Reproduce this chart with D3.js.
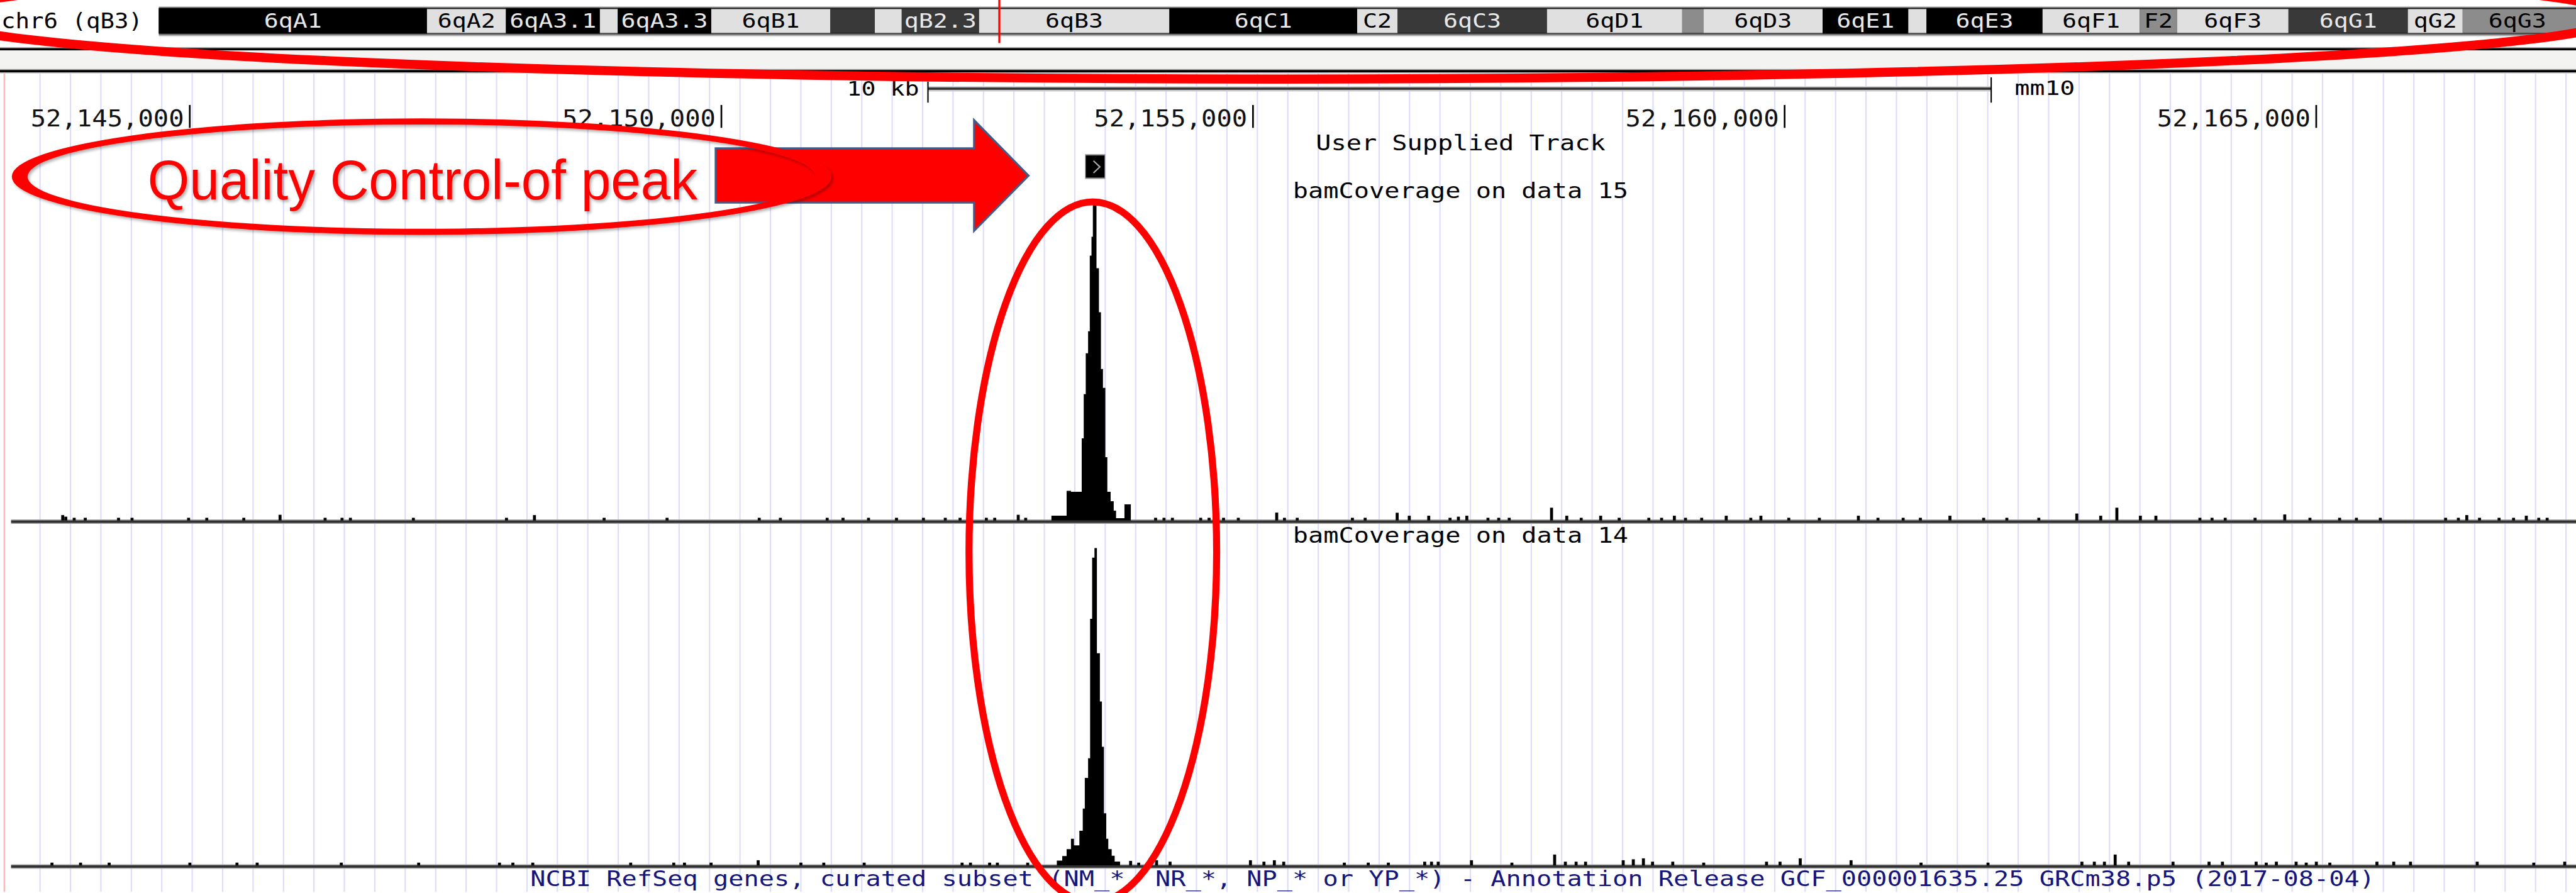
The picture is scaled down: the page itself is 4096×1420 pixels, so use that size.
<!DOCTYPE html>
<html><head><meta charset="utf-8">
<script src="https://cdn.jsdelivr.net/npm/d3@7"></script>
<style>html,body{margin:0;padding:0;background:#fff;overflow:hidden}</style>
</head><body>
<svg id="c" width="4096" height="1420" xmlns="http://www.w3.org/2000/svg"></svg>
<script>
// ---------------- DATA ----------------
const chromName = "chr6 (qB3)";
const chromLengthMb = 149.74;
const bandStartMb = [0,16.64,21.54,27.37,28.48,34.28,41.67,44.43,46.10,50.90,62.71,74.36,76.87,86.14,94.53,95.85,103.24,108.56,109.69,116.89,122.92,125.24,132.15,139.56,142.96];
const bandEndMb   = [16.64,21.54,27.37,28.48,34.28,41.67,44.43,46.10,50.90,62.71,74.36,76.87,86.14,94.53,95.85,103.24,108.56,109.69,116.89,122.92,125.24,132.15,139.56,142.96,149.74];
const bandStain = ["gpos100","gneg","gpos100","gneg","gpos100","gneg","gpos75","gneg","gpos75","gneg","gpos100","gneg","gpos75","gneg","gpos50","gneg","gpos100","gneg","gpos100","gneg","gpos50","gneg","gpos75","gneg","gpos50"];
const bandLabel = ["6qA1","6qA2","6qA3.1","","6qA3.3","6qB1","","","qB2.3","6qB3","6qC1","C2","6qC3","6qD1","","6qD3","6qE1","","6qE3","6qF1","F2","6qF3","6qG1","qG2","6qG3"];

const viewStart = 52143256, viewEnd = 52167421;
const rulerTicks = [52145000, 52150000, 52155000, 52160000, 52165000];
const scaleBarStart = 52151943, scaleBarLength = 10000;
const scaleBarLabel = "10 kb", assemblyLabel = "mm10";
const userTrackName = "User Supplied Track";
const userFeature = [52153427, 52153604];

const track15Name = "bamCoverage on data 15";
const track14Name = "bamCoverage on data 14";
const refSeqLabel = "NCBI RefSeq genes, curated subset (NM_*, NR_*, NP_* or YP_*) - Annotation Release GCF_000001635.25 GRCm38.p5 (2017-08-04)";

// coverage, data 15: peak as step function (start positions, value until next start)
const cov15PeakStart = [52153104,52153247,52153288,52153389,52153408,52153427,52153449,52153465,52153481,52153494,52153528,52153551,52153570,52153589,52153611,52153630,52153661,52153690,52153712,52153791,52153851];
const cov15PeakValue = [1.4,9.3,9.0,26,40,53,60,84,90,100,80,66,48,42,20,9,6,3,0.6,5,0];
const cov15BlipPos = [52143791,52143820,52143899,52144003,52144316,52144443,52144975,52145146,52145494,52145835,52146259,52146418,52146497,52147089,52147965,52148228,52148883,52149475,52150342,52150541,52150981,52151130,52151370,52151633,52151886,52152092,52152231,52152478,52152557,52152778,52152848,52154070,52154149,52154228,52154494,52154573,52154709,52154848,52155209,52155282,52155402,52155921,52156041,52156342,52156456,52156639,52156839,52156918,52156997,52157196,52157297,52157396,52157794,52157937,52158073,52158256,52158430,52158709,52158829,52158949,52159054,52159206,52159437,52159668,52159763,52160025,52160313,52160680,52160864,52161101,52161263,52161541,52161858,52162076,52162377,52162734,52162959,52163111,52163332,52163478,52163892,52164006,52164130,52164411,52164690,52164927,52165206,52165364,52165589,52166203,52166323,52166402,52166522,52166706,52166842,52166962,52167079,52167158];
const cov15BlipValue = [1.6,1.1,0.75,0.75,0.75,0.75,0.75,0.75,0.75,1.7,0.75,0.75,0.75,0.75,0.75,1.6,0.75,0.75,0.75,0.75,0.75,0.75,0.75,0.75,0.75,0.75,0.75,0.75,0.75,1.7,0.75,0.75,0.75,0.75,0.75,0.75,0.75,0.75,2.4,0.75,0.75,0.75,0.75,2.35,1.4,1.4,0.75,1.1,1.4,0.75,0.75,0.75,3.95,1.4,0.75,1.4,0.75,0.75,0.75,1.4,0.75,0.75,1.4,0.75,1.4,0.75,0.75,1.4,0.75,0.75,0.75,1.4,0.75,0.75,0.75,2.1,1.4,3.95,1.4,1.4,0.75,0.75,0.75,0.75,1.8,0.75,0.75,0.75,0.75,0.75,0.75,1.6,0.75,0.75,0.75,1.4,0.75,0.75];

// coverage, data 14
const cov14PeakStart = [52153155,52153206,52153247,52153288,52153316,52153367,52153399,52153418,52153449,52153468,52153487,52153509,52153532,52153560,52153579,52153598,52153620,52153639,52153671,52153699,52153750];
const cov14PeakValue = [1.4,2.8,5,8.3,6.2,10.8,17.8,27.5,33.7,77.7,97,100,66.8,51.6,37.3,16.3,8.3,5,2.9,1.1,0];
const cov14BlipPos = [52143690,52143959,52144228,52144987,52145430,52145620,52146411,52147139,52147899,52148025,52148212,52149133,52149538,52149639,52149889,52150332,52150734,52150949,52151329,52152250,52152329,52152509,52152582,52152867,52153835,52153911,52154079,52154206,52154962,52155089,52155187,52155275,52155845,52156070,52156259,52156601,52156665,52156728,52157041,52157421,52157823,52157924,52158025,52158114,52158468,52158563,52158658,52158744,52158934,52159225,52159816,52159943,52160133,52160611,52161269,52161899,52162782,52162899,52162994,52163095,52163222,52163639,52163978,52164104,52164421,52164516,52164611,52164797,52164892,52164987,52165114,52165557,52165715,52165873,52166500,52167032,52167323];
const cov14BlipValue = [0.75,0.75,0.75,0.75,0.75,0.75,0.75,0.75,0.75,0.75,0.75,0.75,0.75,0.75,0.75,1.5,0.75,0.75,0.75,0.75,0.75,0.75,0.75,0.75,1.3,0.75,1.5,1.05,1.5,1.05,1.5,1.05,0.75,0.75,0.75,1.05,1.05,1.05,1.5,0.75,3.3,1.05,1.05,1.05,1.5,1.8,2.1,1.05,1.05,0.75,1.05,1.05,2.1,1.5,0.75,0.75,1.05,1.05,1.05,3.3,1.05,1.05,1.05,1.05,1.05,0.75,1.05,1.05,0.75,1.05,0.75,1.05,1.05,1.05,1.05,0.75,1.05];
const blipWidthBp = 28;

const annotationText = "Quality Control-of peak";

// ---------------- DRAWING ----------------
const K = 0.535;            // reference -> window scale
const W = 7649, H = 2651;   // reference size (drawing units)
const svg = d3.select("#c");
svg.append("rect").attr("width",4096).attr("height",1420).attr("fill","#fff");
const defs = svg.append("defs");
const f = defs.append("filter").attr("id","shadow").attr("x","-10%").attr("y","-10%").attr("width","120%").attr("height","130%");
f.append("feDropShadow").attr("dx",5).attr("dy",6).attr("stdDeviation",4).attr("flood-color","#000").attr("flood-opacity",0.3);

const root = svg.append("g").attr("transform",`scale(${K})`);
const MONO = "'DejaVu Sans Mono', 'Liberation Mono', monospace";
const CHW = 45.3; // char advance in the reference

const x = d3.scaleLinear().domain([rulerTicks[0], rulerTicks[rulerTicks.length-1]]).range([564, 6884]);
const ideo = d3.scaleLinear().domain([0, chromLengthMb]).range([472, 7644]);

// ---- ideogram ----
const gI = root.append("g");
gI.append("text").attr("x", 4).attr("y", 84)
  .attr("font-family", MONO).attr("font-size", 62).attr("fill","#000")
  .attr("textLength", 420).attr("lengthAdjust","spacingAndGlyphs").text(chromName);
gI.append("rect").attr("x", ideo(0)).attr("y",20).attr("width", ideo(chromLengthMb)-ideo(0)+20).attr("height",86).attr("fill","#7a7a7a");
gI.append("rect").attr("x", ideo(0)).attr("y",106).attr("width", ideo(chromLengthMb)-ideo(0)+20).attr("height",4).attr("fill","#e6e6e6");
gI.append("rect").attr("x", ideo(0)).attr("y",24).attr("width", ideo(chromLengthMb)-ideo(0)+20).attr("height",76).attr("fill","#151515");
const stainFill = {gpos100:"#000000", gpos75:"#393939", gpos50:"#8c8c8c", gneg:"#e0e0e0"};
const stainText = {gpos100:"#e8e8e8", gpos75:"#e8e8e8", gpos50:"#000", gneg:"#000"};
const bands = bandStartMb.map((s,i)=>({s, e:bandEndMb[i], stain:bandStain[i], label:bandLabel[i]}));
gI.selectAll("rect.band").data(bands).enter().append("rect").attr("class","band")
  .attr("x", d=>ideo(d.s)).attr("y", d=> d.stain==="gpos100"? 24:27)
  .attr("width", d=>ideo(d.e)-ideo(d.s) + (d.e>=chromLengthMb?20:0)).attr("height", d=> d.stain==="gpos100"?76:71)
  .attr("fill", d=>stainFill[d.stain]);
gI.selectAll("text.band").data(bands.filter(d=>d.label)).enter().append("text").attr("class","band")
  .attr("x", d=>(ideo(d.s)+ideo(d.e))/2).attr("y", 82).attr("text-anchor","middle")
  .attr("font-family", MONO).attr("font-size", 58).attr("fill", d=>stainText[d.stain])
  .attr("textLength", d=>d.label.length*43).attr("lengthAdjust","spacingAndGlyphs").text(d=>d.label);
const viewMidMb = (viewStart+viewEnd)/2/1e6;
gI.append("line").attr("x1", ideo(viewMidMb)).attr("x2", ideo(viewMidMb)).attr("y1",0).attr("y2",128)
  .attr("stroke","#ff0000").attr("stroke-width",6);

// ---- separators ----
const sep = [[140,3,"#aaaaaa"],[143,7,"#000"],[150,55,"#f3f3f1"],[205,3,"#aaaaaa"],[208,7,"#000"],[215,3,"#bbbbbb"]];
root.selectAll("rect.sep").data(sep).enter().append("rect").attr("class","sep")
  .attr("x",0).attr("width",W+10).attr("y",d=>d[0]).attr("height",d=>d[1]).attr("fill",d=>d[2]);

// ---- guide lines ----
const gG = root.append("g");
gG.selectAll("line").data(d3.range(119, W, 90.45)).enter().append("line")
  .attr("x1",d=>d).attr("x2",d=>d).attr("y1",218).attr("y2",H)
  .attr("stroke","#dcdcfc").attr("stroke-width",4);
gG.append("line").attr("x1",13).attr("x2",13).attr("y1",218).attr("y2",H).attr("stroke","#ffb8b8").attr("stroke-width",5);

// ---- scale bar ----
const gS = root.append("g");
const sb0 = x(scaleBarStart), sb1 = x(scaleBarStart+scaleBarLength);
gS.append("rect").attr("x",sb0).attr("y",256).attr("width",sb1-sb0).attr("height",16).attr("fill","#cfcfcf");
gS.append("rect").attr("x",sb0).attr("y",260).attr("width",sb1-sb0).attr("height",7).attr("fill","#333");
gS.append("line").attr("x1",sb0).attr("x2",sb0).attr("y1",243).attr("y2",305).attr("stroke","#000").attr("stroke-width",4);
gS.append("line").attr("x1",sb1).attr("x2",sb1).attr("y1",230).attr("y2",305).attr("stroke","#000").attr("stroke-width",4);
gS.append("text").attr("x",sb0-26).attr("y",285).attr("text-anchor","end").attr("font-family",MONO).attr("font-size",60)
  .attr("textLength",215).attr("lengthAdjust","spacingAndGlyphs").text(scaleBarLabel);
gS.append("text").attr("x",sb1+70).attr("y",282).attr("font-family",MONO).attr("font-size",60)
  .attr("textLength",179).attr("lengthAdjust","spacingAndGlyphs").text(assemblyLabel);

// ---- ruler ----
const fmt = d3.format(",");
const gR = root.append("g");
gR.selectAll("line").data(rulerTicks).enter().append("line")
  .attr("x1",d=>x(d)).attr("x2",d=>x(d)).attr("y1",312).attr("y2",380).attr("stroke","#000").attr("stroke-width",5);
gR.selectAll("text").data(rulerTicks).enter().append("text")
  .attr("x",d=>x(d)-17).attr("y",375).attr("text-anchor","end").attr("font-family",MONO).attr("font-size",70)
  .attr("fill","#111").attr("textLength",d=>fmt(d).length*45.6).attr("lengthAdjust","spacingAndGlyphs").text(d=>fmt(d));

// ---- track labels ----
const LABX = 4341;
function label(txt, y, color){
  root.append("text").attr("x",LABX).attr("y",y).attr("text-anchor","middle").attr("font-family",MONO).attr("font-size",62)
    .attr("fill",color||"#000").attr("textLength",txt.length*CHW).attr("lengthAdjust","spacingAndGlyphs").text(txt);
}
label(userTrackName, 447);
label(track15Name, 588);
label(track14Name, 1613);
root.append("text").attr("x",4317).attr("y",2634).attr("text-anchor","middle").attr("font-family",MONO).attr("font-size",62)
  .attr("fill","#16167a").attr("textLength",5482).attr("lengthAdjust","spacingAndGlyphs").text(refSeqLabel);

// user feature
const uf0 = x(userFeature[0]), uf1 = x(userFeature[1]);
root.append("rect").attr("x",uf0-2).attr("y",458).attr("width",uf1-uf0+4).attr("height",74).attr("fill","#9a9a9a");
root.append("rect").attr("x",uf0).attr("y",462).attr("width",uf1-uf0).attr("height",66).attr("fill","#000");
root.append("path").attr("d",`M${uf0+23},${478} L${uf0+42},${496} L${uf0+23},${514}`).attr("fill","none").attr("stroke","#aaa").attr("stroke-width",4);

// ---- coverage tracks ----
function drawTrack(base, top, peakStart, peakValue, blipPos, blipValue){
  const y = d3.scaleLinear().domain([0,100]).range([base, top]);
  const g = root.append("g");
  g.append("rect").attr("x",33).attr("y",base-2).attr("width",W).attr("height",13).attr("fill","#a0a0a0");
  g.append("rect").attr("x",33).attr("y",base+1).attr("width",W).attr("height",7).attr("fill","#303030");
  const pts = peakStart.map((s,i)=>({s, v:peakValue[i]}));
  const area = d3.area().curve(d3.curveStepAfter).x(d=>x(d.s)).y0(base+1).y1(d=>y(d.v));
  g.append("path").datum(pts).attr("d",area).attr("fill","#000");
  const bl = blipPos.map((p,i)=>({p, v:blipValue[i]}));
  g.selectAll("rect.bl").data(bl).enter().append("rect").attr("class","bl")
    .attr("x",d=>x(d.p)).attr("width",d=>x(d.p+blipWidthBp)-x(d.p))
    .attr("y",d=>y(d.v)).attr("height",d=>base-y(d.v)+1).attr("fill","#000");
}
drawTrack(1546, 610, cov15PeakStart, cov15PeakValue, cov15BlipPos, cov15BlipValue);
drawTrack(2571, 1629, cov14PeakStart, cov14PeakValue, cov14BlipPos, cov14BlipValue);

// ---- annotations ----
const gA = root.append("g");
gA.append("ellipse").attr("cx",3800).attr("cy",50).attr("rx",3990).attr("ry",185)
  .attr("fill","none").attr("stroke","#ff0000").attr("stroke-width",27);
gA.append("path").attr("d","M2127,441 L2895,441 L2895,357 L3057,522 L2895,686 L2895,602 L2127,602 Z")
  .attr("fill","#ff0000").attr("stroke","#3d5d8c").attr("stroke-width",6).attr("stroke-linejoin","miter");
gA.append("text").attr("x",439).attr("y",592).attr("font-family","'Liberation Sans', Arial, sans-serif")
  .attr("font-size",168).attr("fill","#ff0000").attr("textLength",1634).attr("lengthAdjust","spacingAndGlyphs")
  .attr("filter","url(#shadow)").text(annotationText);
function ellRing(cx,cy,rxo,ryo,rxi,ryi){
  const e=(rx,ry)=>`M${cx-rx},${cy} A${rx},${ry} 0 1 0 ${cx+rx},${cy} A${rx},${ry} 0 1 0 ${cx-rx},${cy} Z`;
  return e(rxo,ryo)+" "+e(rxi,ryi);
}
gA.append("path").attr("d", ellRing(1253,525,1218,173,1171,155)).attr("fill","#ff0000").attr("fill-rule","evenodd")
  .attr("filter","url(#shadow)");
gA.append("ellipse").attr("cx",3248).attr("cy",1641).attr("rx",368).attr("ry",1041)
  .attr("fill","none").attr("stroke","#ff0000").attr("stroke-width",21);
</script>
</body></html>
